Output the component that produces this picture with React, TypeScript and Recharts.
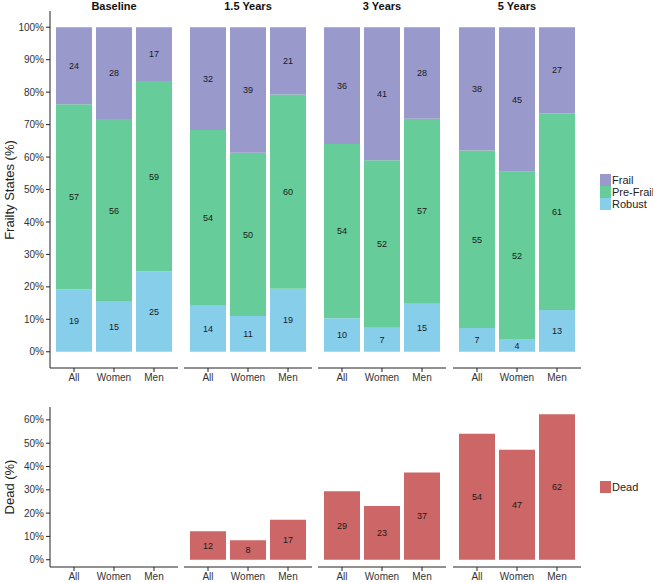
import React from 'react';
import { BarChart, Bar, XAxis, YAxis, LabelList } from 'recharts';

// categories
const groups = ['All', 'Women', 'Men'];
const periods = ['Baseline', '1.5 Years', '3 Years', '5 Years'];

// frailty state shares (%) per period, in order All / Women / Men
const robust = [
  [19.2, 15.4, 24.7],
  [14.2, 11.0, 19.4],
  [10.3, 7.4, 14.8],
  [7.3, 3.9, 12.9],
];
const preFrail = [
  [57.1, 56.3, 58.7],
  [54.1, 50.3, 59.9],
  [53.7, 51.6, 57.0],
  [54.7, 51.6, 60.6],
];
const frail = [
  [23.7, 28.3, 16.6],
  [31.7, 38.7, 20.7],
  [36.0, 41.0, 28.2],
  [38.0, 44.5, 26.5],
];

// dead (%) per period, nobody is dead at baseline
const dead: (number | null)[][] = [
  [null, null, null],
  [12.2, 8.4, 17.2],
  [29.4, 23.0, 37.4],
  [54.0, 47.2, 62.4],
];

const stateTicks = [0, 10, 20, 30, 40, 50, 60, 70, 80, 90, 100];
const deadTicks = [0, 10, 20, 30, 40, 50, 60];

const COLORS = {
  frail: '#9999CC',
  preFrail: '#66CC99',
  robust: '#87CEEB',
  dead: '#CD6666',
};

const FONT = '"Liberation Sans", Arial, sans-serif';
const AXIS = '#222';
const TICK_TEXT = '#333';

// left edge of each facet panel
const PANEL_LEFT = [50, 184, 318, 453];
const PANEL_W = 128;
const YAXIS_W = 50;

const pct = (v: number) => `${v}%`;
const fmt = (v: any) => (v == null ? '' : String(Math.round(Number(v))));

const labelStyle = { fill: '#1a1a1a', fontSize: 9 };

const deadMax = Math.max(...dead.flat().filter((v): v is number => v != null));
const deadDomain = [-0.05 * deadMax, 1.05 * deadMax];

function StateFacet({ idx }: { idx: number }) {
  const first = idx === 0;
  const rows = groups.map((g, j) => ({
    group: g,
    robust: robust[idx][j],
    preFrail: preFrail[idx][j],
    frail: frail[idx][j],
  }));
  return (
    <div style={{ position: 'absolute', left: first ? PANEL_LEFT[0] - YAXIS_W : PANEL_LEFT[idx], top: 0 }}>
      <BarChart
        width={(first ? YAXIS_W : 0) + PANEL_W}
        height={388}
        data={rows}
        margin={{ top: 11, right: 0, bottom: 0, left: 0 }}
      >
        <XAxis
          dataKey="group"
          interval={0}
          padding={{ left: 4, right: 4 }}
          height={20}
          tickSize={4}
          axisLine={{ stroke: AXIS }}
          tickLine={{ stroke: AXIS }}
          tick={{ fill: TICK_TEXT, fontSize: 10 }}
        />
        <YAxis
          type="number"
          domain={[-5, 105]}
          allowDataOverflow
          ticks={stateTicks}
          hide={!first}
          width={YAXIS_W}
          tickSize={4}
          tickFormatter={pct}
          axisLine={{ stroke: AXIS }}
          tickLine={{ stroke: AXIS }}
          tick={{ fill: TICK_TEXT, fontSize: 10 }}
        />
        <Bar dataKey="robust" stackId="s" fill={COLORS.robust} barSize={36} isAnimationActive={false}>
          <LabelList dataKey="robust" position="center" formatter={fmt} {...labelStyle} />
        </Bar>
        <Bar dataKey="preFrail" stackId="s" fill={COLORS.preFrail} barSize={36} isAnimationActive={false}>
          <LabelList dataKey="preFrail" position="center" formatter={fmt} {...labelStyle} />
        </Bar>
        <Bar dataKey="frail" stackId="s" fill={COLORS.frail} barSize={36} isAnimationActive={false}>
          <LabelList dataKey="frail" position="center" formatter={fmt} {...labelStyle} />
        </Bar>
      </BarChart>
    </div>
  );
}

function DeadFacet({ idx }: { idx: number }) {
  const first = idx === 0;
  const rows = groups.map((g, j) => ({ group: g, dead: dead[idx][j] }));
  return (
    <div style={{ position: 'absolute', left: first ? PANEL_LEFT[0] - YAXIS_W : PANEL_LEFT[idx], top: 390 }}>
      <BarChart
        width={(first ? YAXIS_W : 0) + PANEL_W}
        height={197}
        data={rows}
        margin={{ top: 17, right: 0, bottom: 0, left: 0 }}
      >
        <XAxis
          dataKey="group"
          interval={0}
          padding={{ left: 4, right: 4 }}
          height={20}
          tickSize={4}
          axisLine={{ stroke: AXIS }}
          tickLine={{ stroke: AXIS }}
          tick={{ fill: TICK_TEXT, fontSize: 10 }}
        />
        <YAxis
          type="number"
          domain={deadDomain}
          allowDataOverflow
          ticks={deadTicks}
          hide={!first}
          width={YAXIS_W}
          tickSize={4}
          tickFormatter={pct}
          axisLine={{ stroke: AXIS }}
          tickLine={{ stroke: AXIS }}
          tick={{ fill: TICK_TEXT, fontSize: 10 }}
        />
        <Bar dataKey="dead" fill={COLORS.dead} barSize={36} isAnimationActive={false}>
          <LabelList dataKey="dead" position="center" formatter={fmt} {...labelStyle} />
        </Bar>
      </BarChart>
    </div>
  );
}

function AxisTitle({ text, cy }: { text: string; cy: number }) {
  return (
    <div
      style={{
        position: 'absolute',
        left: 10 - 100,
        top: cy - 8,
        width: 200,
        height: 16,
        lineHeight: '16px',
        textAlign: 'center',
        fontSize: 13,
        color: '#222',
        transform: 'rotate(-90deg)',
      }}
    >
      {text}
    </div>
  );
}

function LegendBox({ items, top }: { items: { label: string; color: string }[]; top: number }) {
  return (
    <div style={{ position: 'absolute', left: 600, top, width: 53 }}>
      {items.map((it) => (
        <div key={it.label} style={{ display: 'flex', alignItems: 'center', height: 12, whiteSpace: 'nowrap' }}>
          <div style={{ width: 11, height: 12, flex: 'none', background: it.color }} />
          <span style={{ fontSize: 11, color: '#222', marginLeft: 1, lineHeight: '12px' }}>{it.label}</span>
        </div>
      ))}
    </div>
  );
}

export default function App() {
  return (
    <div
      style={{
        position: 'absolute',
        left: 0,
        top: 0,
        width: 653,
        height: 583,
        background: '#fff',
        fontFamily: FONT,
        overflow: 'hidden',
      }}
    >
      {periods.map((p, i) => (
        <div
          key={p}
          style={{
            position: 'absolute',
            left: PANEL_LEFT[i],
            top: 0,
            width: PANEL_W,
            lineHeight: '12px',
            textAlign: 'center',
            fontWeight: 'bold',
            fontSize: 11,
            color: '#111',
          }}
        >
          {p}
        </div>
      ))}
      {periods.map((p, i) => (
        <StateFacet key={p} idx={i} />
      ))}
      {periods.map((p, i) => (
        <DeadFacet key={p} idx={i} />
      ))}
      <AxisTitle text="Frailty States (%)" cy={190} />
      <AxisTitle text="Dead (%)" cy={487} />
      <LegendBox
        top={174}
        items={[
          { label: 'Frail', color: COLORS.frail },
          { label: 'Pre-Frail', color: COLORS.preFrail },
          { label: 'Robust', color: COLORS.robust },
        ]}
      />
      <LegendBox top={481} items={[{ label: 'Dead', color: COLORS.dead }]} />
    </div>
  );
}
